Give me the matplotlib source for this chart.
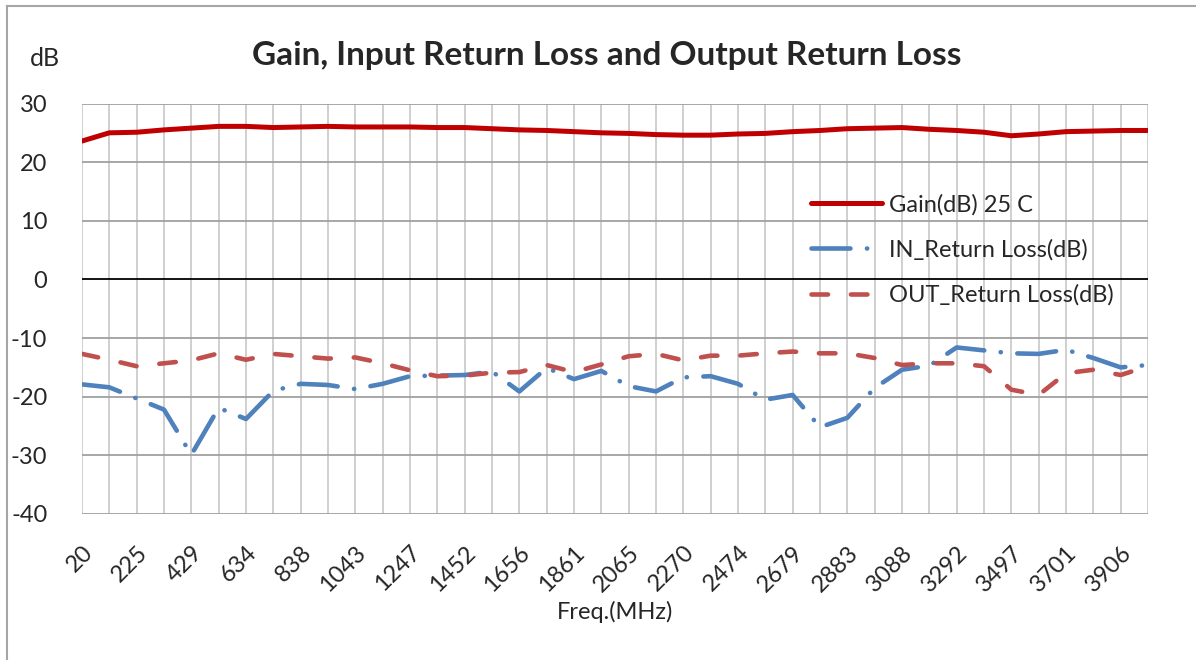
import matplotlib
matplotlib.use("Agg")
from matplotlib import pyplot as plt
from matplotlib.lines import Line2D

freq = ["20", "122", "225", "327", "429", "531", "634", "736", "838", "940",
        "1043", "1145", "1247", "1349", "1452", "1554", "1656", "1758", "1861", "1963",
        "2065", "2167", "2270", "2372", "2474", "2577", "2679", "2781", "2883", "2986",
        "3088", "3190", "3292", "3395", "3497", "3599", "3701", "3804", "3906", "4008"]

gain = [23.6, 25.0, 25.1, 25.5, 25.8, 26.1, 26.1, 25.9, 26.0, 26.1,
        26.0, 26.0, 26.0, 25.9, 25.9, 25.7, 25.5, 25.4, 25.2, 25.0,
        24.9, 24.7, 24.6, 24.6, 24.8, 24.9, 25.2, 25.4, 25.7, 25.8,
        25.9, 25.6, 25.4, 25.1, 24.5, 24.8, 25.2, 25.3, 25.4, 25.4]

in_rl = [-17.9, -18.4, -20.3, -22.2, -29.9, -21.9, -23.8, -19.0, -17.8, -18.0,
         -18.7, -17.8, -16.5, -16.4, -16.3, -15.7, -19.1, -15.1, -17.0, -15.6,
         -18.2, -19.1, -16.7, -16.5, -17.8, -20.5, -19.7, -25.2, -23.6, -18.5,
         -15.4, -14.7, -11.6, -12.1, -12.6, -12.7, -12.0, -13.4, -15.0, -14.6]

out_rl = [-12.7, -13.7, -14.8, -14.3, -13.8, -12.6, -13.7, -12.7, -13.1, -13.5,
          -13.3, -14.3, -15.5, -16.5, -16.4, -15.9, -15.8, -14.6, -15.8, -14.5,
          -13.1, -12.7, -13.8, -13.0, -13.0, -12.6, -12.3, -12.6, -12.6, -13.4,
          -14.6, -14.3, -14.3, -14.8, -18.8, -19.7, -16.0, -15.4, -16.3, -14.8]

plt.rcParams['font.family'] = ['Lato', 'DejaVu Sans']
plt.rcParams['axes.unicode_minus'] = False
text_col = "#262626"

fig = plt.figure(figsize=(11.96, 6.6), dpi=100)
ax = fig.add_axes([82 / 1196, 1 - 514 / 660, (1148 - 82) / 1196, (514 - 103.5) / 660])

x = list(range(len(freq)))
ax.plot(x, gain, color="#C00000", lw=3.6, solid_joinstyle="round",
        solid_capstyle="round", label="Gain(dB) 25 C", zorder=4)
ax.plot(x, in_rl, color="#4F81BD", lw=3.3, dashes=(8.5, 3.6, 0.05, 3.6),
        dash_capstyle="round", dash_joinstyle="round",
        label="IN_Return Loss(dB)", zorder=3)
ax.plot(x, out_rl, color="#C0504D", lw=3.3, dashes=(3.6, 5.0),
        dash_capstyle="round", dash_joinstyle="round",
        label="OUT_Return Loss(dB)", zorder=3)

ax.set_xlim(0, len(freq) - 1)
ax.set_ylim(-40, 30)
ax.set_yticks(range(-40, 31, 10))
ax.set_xticks(x[::2])
ax.set_xticklabels(freq[::2], rotation=45, ha="right", rotation_mode="anchor")

ax.tick_params(axis="x", length=0, pad=20, labelsize=17, colors=text_col)
ax.tick_params(axis="y", length=0, pad=25, labelsize=17, colors=text_col)

# grid: horizontal darker, vertical light
for v in range(-40, 31, 10):
    ax.axhline(v, color="black" if v == 0 else "#a0a0a0", lw=1.3, zorder=1)
for xi in x:
    ax.axvline(xi, color="#cccccc", lw=1.3, zorder=0.5)
for s in ax.spines.values():
    s.set_visible(False)

ax.set_xlabel("Freq.(MHz)", fontsize=17, color=text_col, labelpad=4)
fig.text(45 / 1196, 1 - 59 / 660, "dB", fontsize=18, color=text_col, ha="center", va="center")
fig.text(607 / 1196, 1 - 55 / 660, "Gain, Input Return Loss and Output Return Loss",
         fontsize=24, fontweight="bold", color=text_col, ha="center", va="center")

leg = ax.legend(loc="upper left", bbox_to_anchor=((811 - 82) / 1066, 1 - (194 - 103.5) / 410.5),
                frameon=False, fontsize=17, handlelength=3.0, handletextpad=0.3,
                labelspacing=1.0, borderaxespad=0, borderpad=0)
for t in leg.get_texts():
    t.set_color(text_col)

# outer chart border (top and left visible)
fig.add_artist(Line2D([7 / 1196, 1], [1 - 6 / 660, 1 - 6 / 660], color="#a6a6a6", lw=1.5))
fig.add_artist(Line2D([7 / 1196, 7 / 1196], [0, 1 - 6 / 660], color="#a6a6a6", lw=1.5))

fig.savefig("out.png", dpi=100)
